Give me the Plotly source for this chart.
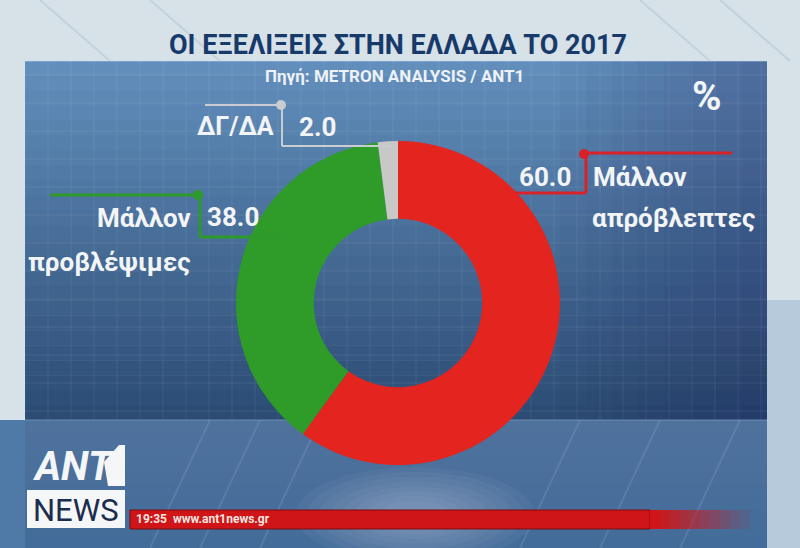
import plotly.graph_objects as go

# ---- data ----
labels = ["Μάλλον απρόβλεπτες", "Μάλλον προβλέψιμες", "ΔΓ/ΔΑ"]
values = [60.0, 38.0, 2.0]
colors = ["#e3241f", "#2f9b28", "#c8c8c6"]
title_text = "ΟΙ ΕΞΕΛΙΞΕΙΣ ΣΤΗΝ ΕΛΛΑΔΑ ΤΟ 2017"
source_text = "Πηγή: METRON ANALYSIS / ANT1"
unit_text = "%"
ticker_text = "19:35  www.ant1news.gr"

W, H = 800, 548
def X(x): return x / W
def Y(y): return 1 - y / H

COND = "Roboto, Liberation Sans, sans-serif"

def lerp(c1, c2, t):
    return "rgb(%d,%d,%d)" % tuple(round(a + (b - a) * t) for a, b in zip(c1, c2))

shapes = []
shapes.append(dict(type="rect", xref="paper", yref="paper", x0=0, x1=1, y0=Y(548), y1=Y(0),
                   fillcolor="#d6e1e8", line_width=0, layer="below"))
for x0 in [40, 150, 640, 720]:
    shapes.append(dict(type="line", xref="paper", yref="paper", x0=X(x0), x1=X(x0 + 70), y0=Y(0), y1=Y(61),
                       line=dict(color="rgba(170,190,205,0.45)", width=2), layer="below"))
# side strips
shapes.append(dict(type="rect", xref="paper", yref="paper", x0=0, x1=X(800), y0=Y(548), y1=Y(420),
                   fillcolor="#4f7aa8", line_width=0, layer="below"))
shapes.append(dict(type="rect", xref="paper", yref="paper", x0=X(767), x1=1, y0=Y(548), y1=Y(300),
                   fillcolor="#b7cadb", line_width=0, layer="below"))
# panel gradient
N = 24
top_c, bot_c = (98, 142, 188), (44, 76, 116)
for i in range(N):
    y0 = 61 + i * (359 / N)
    y1 = 61 + (i + 1) * (359 / N)
    shapes.append(dict(type="rect", xref="paper", yref="paper", x0=X(25), x1=X(767),
                       y0=Y(y1 + 0.5), y1=Y(y0), fillcolor=lerp(top_c, bot_c, i / (N - 1)),
                       line_width=0, layer="below"))
for i in range(8):
    shapes.append(dict(type="rect", xref="paper", yref="paper", x0=X(560 + i * 26), x1=X(767),
                       y0=Y(420), y1=Y(61), fillcolor="rgba(20,40,80,0.035)",
                       line_width=0, layer="below"))
# floor gradient
N2 = 10
for i in range(N2):
    y0 = 420 + i * (128 / N2)
    y1 = 420 + (i + 1) * (128 / N2)
    shapes.append(dict(type="rect", xref="paper", yref="paper", x0=X(25), x1=X(767),
                       y0=Y(y1 + 0.5), y1=Y(y0), fillcolor=lerp((78, 114, 156), (68, 108, 154), i / (N2 - 1)),
                       line_width=0, layer="below"))
for k in range(8):
    r = 120 - k * 12
    shapes.append(dict(type="circle", xref="paper", yref="paper", x0=X(415 - r), x1=X(415 + r),
                       y0=Y(515 + r * 0.4), y1=Y(515 - r * 0.4), fillcolor="rgba(210,225,240,0.05)",
                       line_width=0, layer="below"))
for x0 in [150, 200, 260, 520, 600, 680]:
    shapes.append(dict(type="line", xref="paper", yref="paper", x0=X(x0), x1=X(x0 + 60), y0=Y(548), y1=Y(420),
                       line=dict(color="rgba(190,210,230,0.15)", width=2), layer="below"))
# panel grid
gx = 25
while gx < 767:
    shapes.append(dict(type="line", xref="paper", yref="paper", x0=X(gx), x1=X(gx), y0=Y(420), y1=Y(61),
                       line=dict(color="rgba(255,255,255,0.07)", width=1), layer="below"))
    gx += 23
gy = 75
while gy < 420:
    shapes.append(dict(type="line", xref="paper", yref="paper", x0=X(25), x1=X(767), y0=Y(gy), y1=Y(gy),
                       line=dict(color="rgba(255,255,255,0.08)", width=1), layer="below"))
    gy += 28
shapes.append(dict(type="line", xref="paper", yref="paper", x0=X(25), x1=X(767), y0=Y(61), y1=Y(61),
                   line=dict(color="rgba(200,220,240,0.6)", width=1), layer="below"))
shapes.append(dict(type="line", xref="paper", yref="paper", x0=X(25), x1=X(767), y0=Y(420), y1=Y(420),
                   line=dict(color="rgba(140,170,205,0.6)", width=1), layer="below"))

def seg(x0, y0, x1, y1, color, width=2):
    shapes.append(dict(type="line", xref="paper", yref="paper", x0=X(x0), x1=X(x1), y0=Y(y0), y1=Y(y1),
                       line=dict(color=color, width=width), layer="above"))

def dot(x, y, color, r=5):
    shapes.append(dict(type="circle", xref="paper", yref="paper", x0=X(x - r), x1=X(x + r),
                       y0=Y(y + r), y1=Y(y - r), fillcolor=color, line_width=0, layer="above"))

# leader lines
gcol = "#c9cdd2"
seg(205, 105, 281, 105, gcol); dot(281, 105, gcol)
seg(282, 108, 282, 146, gcol); seg(282, 146, 392, 146, gcol)
grn = "#2e9a2a"
seg(50, 195, 198, 195, grn, 3); dot(198, 195, grn)
seg(200, 196, 200, 237, grn, 3); seg(200, 237, 282, 237, grn, 3)
red = "#d82228"
seg(584, 153, 732, 153, red, 3); dot(584, 154, red)
seg(586, 155, 586, 193, red, 3); seg(515, 193, 586, 193, red, 3)

# ticker bar
shapes.append(dict(type="rect", xref="paper", yref="paper", x0=X(130), x1=X(650), y0=Y(529), y1=Y(510),
                   fillcolor="#cf1517", line=dict(color="#7a0c10", width=1), layer="above"))
for i in range(10):
    shapes.append(dict(type="rect", xref="paper", yref="paper", x0=X(650 + i * 10), x1=X(660 + i * 10),
                       y0=Y(529), y1=Y(510), fillcolor="rgba(207,21,23,%.2f)" % (1 - i / 10),
                       line_width=0, layer="above"))
# logo
shapes.append(dict(type="rect", xref="paper", yref="paper", x0=X(27), x1=X(125), y0=Y(528), y1=Y(490),
                   fillcolor="#f4f6f8", line_width=0, layer="above"))
shapes.append(dict(type="path", xref="paper", yref="paper",
                   path="M %f %f L %f %f L %f %f L %f %f L %f %f Z" % (
                       X(108), Y(486), X(125), Y(486), X(125), Y(445), X(119), Y(445), X(104), Y(462)),
                   fillcolor="#f4f6f8", line_width=0, layer="above"))

fig = go.Figure(go.Pie(
    labels=labels, values=values, marker=dict(colors=colors, line=dict(width=0)),
    hole=0.52, sort=False, direction="clockwise", rotation=0,
    textinfo="none", showlegend=False,
    domain=dict(x=[X(236), X(560)], y=[Y(465), Y(141)]),
))

ann = []
def txt(x, y, s, size, color="#f2f4f6", anchor="left", family=COND, weight="bold", style="normal"):
    ann.append(dict(x=X(x), y=Y(y), xref="paper", yref="paper", text=s, showarrow=False,
                    xanchor=anchor, yanchor="middle",
                    font=dict(family=family, size=size, color=color, weight=weight, style=style)))

txt(398, 45, title_text, 27, color="#173a6b", anchor="center")
txt(394, 76, source_text, 17, color="#eef2f6", anchor="center")
txt(707, 97, unit_text, 40, anchor="center")

red_lbl = labels[0].split(" ")
grn_lbl = labels[1].split(" ")
txt(276, 127, labels[2], 25, anchor="right")
txt(297, 127, "%.1f" % values[2], 26)
txt(573, 177, "%.1f" % values[0], 26, anchor="right")
txt(591, 177, red_lbl[0], 26)
txt(590, 218, red_lbl[1], 26)
txt(205, 217, "%.1f" % values[1], 26)
txt(193, 218, grn_lbl[0], 26, anchor="right")
txt(193, 262, grn_lbl[1], 26, anchor="right")

txt(30, 466, "ANT", 40, color="#f4f6f8", style="italic")
txt(76, 510, "NEWS", 31, color="#1b2d4e", anchor="center", weight="normal")
txt(134, 519, ticker_text, 12, color="#f6e6e0")

fig.update_layout(
    width=W, height=H, margin=dict(l=0, r=0, t=0, b=0),
    paper_bgcolor="#d6e1e8", plot_bgcolor="rgba(0,0,0,0)",
    shapes=shapes, annotations=ann,
    xaxis=dict(visible=False), yaxis=dict(visible=False),
)
fig.write_html("out.html", config={"displayModeBar": False},
               post_script="document.body.style.margin='0';")
